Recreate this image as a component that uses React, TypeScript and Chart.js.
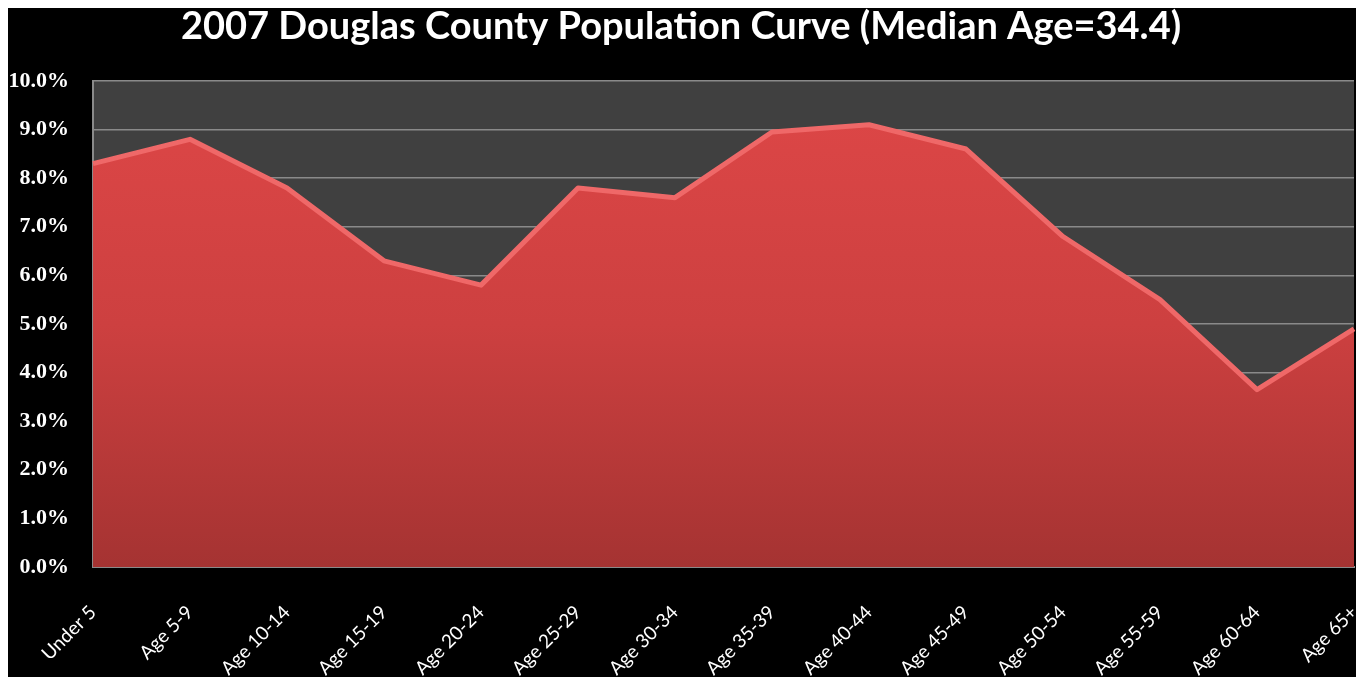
import { useEffect, useRef } from "react";
import { Chart, registerables } from "chart.js";

Chart.register(...registerables);

const categories = [
  "Under 5",
  "Age 5-9",
  "Age 10-14",
  "Age 15-19",
  "Age 20-24",
  "Age 25-29",
  "Age 30-34",
  "Age 35-39",
  "Age 40-44",
  "Age 45-49",
  "Age 50-54",
  "Age 55-59",
  "Age 60-64",
  "Age 65+",
];

const populationShare = [8.3, 8.8, 7.8, 6.3, 5.8, 7.8, 7.6, 8.95, 9.1, 8.6, 6.8, 5.5, 3.65, 4.9];

const yMin = 0;
const yMax = 10;
const yStep = 1;

const titleText = "2007 Douglas County Population Curve (Median Age=34.4)";

export default function App() {
  const canvasRef = useRef<HTMLCanvasElement | null>(null);

  useEffect(() => {
    document.body.style.overflow = "hidden";
    const canvas = canvasRef.current;
    if (!canvas) return;

    const plotBg = {
      id: "plotBg",
      beforeDraw(chart: any) {
        const { ctx, chartArea } = chart;
        ctx.save();
        ctx.fillStyle = "#000000";
        ctx.fillRect(0, 0, chart.width, chart.height);
        if (chartArea) {
          ctx.fillStyle = "#404040";
          ctx.fillRect(chartArea.left, chartArea.top, chartArea.right - chartArea.left, chartArea.bottom - chartArea.top);
        }
        ctx.restore();
      },
    };

    const chart = new Chart(canvas, {
      type: "line",
      data: {
        labels: categories,
        datasets: [
          {
            label: "Population share",
            data: populationShare,
            fill: "origin",
            tension: 0,
            pointRadius: 0,
            borderWidth: 5,
            borderColor: "#ef6868",
            borderJoinStyle: "round",
            backgroundColor: (ctx: any) => {
              const area = ctx.chart.chartArea;
              if (!area) return "#c94040";
              const g = ctx.chart.ctx.createLinearGradient(0, area.top, 0, area.bottom);
              g.addColorStop(0, "#de4747");
              g.addColorStop(0.5, "#cd4040");
              g.addColorStop(1, "#a53332");
              return g;
            },
          },
        ],
      },
      options: {
        animation: false,
        responsive: true,
        maintainAspectRatio: false,
        layout: { padding: { left: 0, right: 10, top: 0, bottom: 0 } },
        plugins: {
          legend: { display: false },
          tooltip: { enabled: false },
          title: {
            display: true,
            text: titleText,
            color: "#ffffff",
            font: { family: "Lato", size: 38, weight: "bold", lineHeight: 1.0 },
            padding: { top: 0, bottom: 35 },
          },
        },
        scales: {
          x: {
            offset: false,
            grid: { display: false },
            border: { display: true, color: "#8a8a8a", width: 2 },
            ticks: {
              color: "#ffffff",
              font: { family: "Lato", size: 19 },
              minRotation: 45,
              maxRotation: 45,
              autoSkip: false,
              padding: 26,
            },
            afterFit: (s: any) => {
              s.height = 110;
              s.paddingRight = 0;
              s.paddingLeft = 0;
            },
          },
          y: {
            min: yMin,
            max: yMax,
            grid: { color: "#8a8a8a", lineWidth: 1.5, drawTicks: false },
            border: { display: true, color: "#8a8a8a", width: 2 },
            ticks: {
              stepSize: yStep,
              color: "#ffffff",
              padding: 24,
              font: { family: "Liberation Serif", size: 22, weight: "bold" },
              callback: (v: any) => Number(v).toFixed(1) + "%",
            },
            afterFit: (s: any) => {
              s.width = 85;
            },
          },
        },
      },
      plugins: [plotBg],
    });

    return () => chart.destroy();
  }, []);

  return (
    <div style={{ width: 1356, height: 669, position: "relative", background: "#000" }}>
      <canvas ref={canvasRef} />
    </div>
  );
}
